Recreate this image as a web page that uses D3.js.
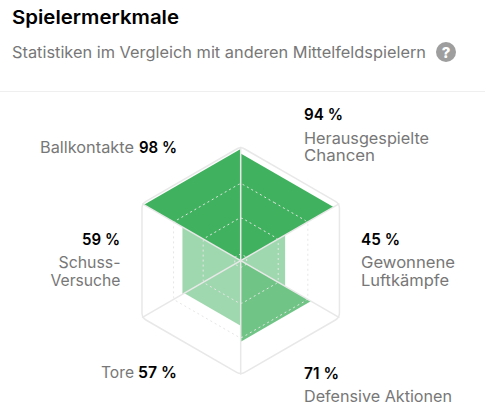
<!DOCTYPE html>
<html><head><meta charset="utf-8">
<script src="https://cdn.jsdelivr.net/npm/d3@7/dist/d3.min.js"></script>
<style>
html,body{margin:0;padding:0;background:#fff}
svg{display:block}
text{font-family:Inter,sans-serif}
</style></head><body>
<svg id="c" width="485" height="417"></svg>
<script>
const categories=["Herausgespielte Chancen","Gewonnene Luftkämpfe","Defensive Aktionen","Tore","Schuss-Versuche","Ballkontakte"];
const values=[94,45,71,57,59,98];
const ringLevels=[6,38,68];
const title="Spielermerkmale";
const subtitle="Statistiken im Vergleich mit anderen Mittelfeldspielern";

const svg=d3.select("#c");
const cx=240.7,cy=260.7,R=114;
const r=d3.scaleLinear().domain([0,100]).range([0,R]);
const ang=i=>i*Math.PI/3;
const pt=(i,v)=>[cx+r(v)*Math.sin(ang(i)),cy-r(v)*Math.cos(ang(i))];
const idx=d3.range(6);
const opacity=v=>v>=80?1:v>=60?0.75:0.5;

function roundedHex(level,rad){
  const p=d3.path();
  const a=pt(0,level),b=pt(1,level);
  p.moveTo((a[0]+b[0])/2,(a[1]+b[1])/2);
  for(let k=1;k<=6;k++){
    const c=pt(k,level),n=pt(k+1,level);
    p.arcTo(c[0],c[1],n[0],n[1],rad);
  }
  p.closePath();
  return p.toString();
}

function fitText(x,y,t,size,weight,fill,anchor,width){
  const s=svg.append("text").attr("x",x).attr("y",y).attr("font-size",size).attr("font-weight",weight).attr("fill",fill).attr("text-anchor",anchor).text(t);
  if(width) s.attr("textLength",width).attr("lengthAdjust","spacingAndGlyphs");
  return s;
}
function twoLines(x,y,dy,a,wa,b,wb,anchor){
  const s=svg.append("text").attr("font-size",16).attr("fill","#777").attr("text-anchor",anchor);
  s.append("tspan").attr("x",x).attr("y",y).attr("textLength",wa).attr("lengthAdjust","spacingAndGlyphs").text(a);
  s.append("tspan").attr("x",x).attr("y",y+dy).attr("textLength",wb).attr("lengthAdjust","spacingAndGlyphs").text(b);
}

fitText(12,24,title,19,600,"#000","start",167);
fitText(12,57.5,subtitle,15.5,400,"#777","start",414);
svg.append("circle").attr("cx",446).attr("cy",52).attr("r",10).attr("fill","#9e9e9e");
fitText(446,57.5,"?",15,800,"#fff","middle");
svg.append("line").attr("x1",0).attr("x2",485).attr("y1",91.5).attr("y2",91.5).attr("stroke","#efefef");

svg.append("path").attr("d",roundedHex(100,8)).attr("fill","none").attr("stroke","#e8e8e8").attr("stroke-width",1.5);
values.forEach((v,i)=>{
  svg.append("path").attr("d",d3.line()([[cx,cy],pt(i,v),pt(i+1,v)])+"Z").attr("fill","#40b15e").attr("fill-opacity",opacity(v));
});
ringLevels.forEach(l=>{
  svg.append("path").attr("d",roundedHex(l,l<10?1:5)).attr("fill","none").attr("stroke","#e6e6e6").attr("stroke-width",1).attr("stroke-dasharray","2 3");
});
idx.forEach(i=>{
  const p=pt(i,100);
  svg.append("line").attr("x1",cx).attr("y1",cy).attr("x2",p[0]).attr("y2",p[1]).attr("stroke","#e8e8e8").attr("stroke-width",1.5);
});
const G="#777",K="#000";
const pct=(x,y,v,anchor,w)=>fitText(x,y,v+" %",16,600,K,anchor,w);
const nm=(x,y,t,anchor,w)=>fitText(x,y,t,16,400,G,anchor,w);
pct(304,120,values[0],"start",39);
twoLines(304,144,17,"Herausgespielte",125,"Chancen",71,"start");
pct(361,245,values[1],"start",39);
twoLines(361,268,18,"Gewonnene",94,"Luftkämpfe",88,"start");
pct(304,379,values[2],"start",35);
nm(304,402,"Defensive Aktionen","start",148);
pct(177,378,values[3],"end",39);
nm(134,378,"Tore","end",33);
pct(120,245,values[4],"end",38);
twoLines(120.5,268,18,"Schuss-",62,"Versuche",70,"end");
pct(177,153,values[5],"end",38);
nm(134,153,"Ballkontakte","end",94);
</script></body></html>
